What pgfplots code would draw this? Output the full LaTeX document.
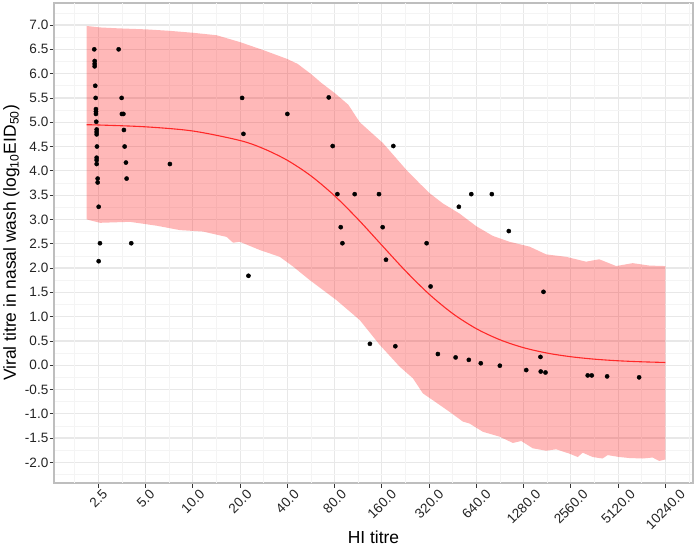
\documentclass[border=0pt]{standalone}
\usepackage{pgfplots}
\pgfplotsset{compat=1.18}
\usepackage{fontspec}
\setmainfont{Liberation Sans}
\definecolor{tickgray}{RGB}{51,51,51}
\definecolor{labgray}{RGB}{35,35,35}
\definecolor{bordergray}{RGB}{190,190,190}
\definecolor{gridmajor}{RGB}{232,232,232}
\definecolor{gridminor}{RGB}{244,244,244}
\definecolor{fitred}{RGB}{255,40,40}
\newcommand{\rl}[1]{\rotatebox{45}{#1}}
\begin{document}
\begin{tikzpicture}
\begin{axis}[
  scale only axis, width=639bp, height=480bp,
  xmode=log,
  xmin=1.304, xmax=15360, ymin=-2.424, ymax=7.453,
  xtick={2.5,5,10,20,40,80,160,320,640,1280,2560,5120,10240},
  xticklabels={\rl{2.5},\rl{5.0},\rl{10.0},\rl{20.0},\rl{40.0},\rl{80.0},\rl{160.0},\rl{320.0},\rl{640.0},\rl{1280.0},\rl{2560.0},\rl{5120.0},\rl{10240.0}},
  extra x ticks={1.768,3.536,7.071,14.14,28.28,56.57,113.1,226.3,452.5,905.1,1810,3620,7241,14482},
  extra x tick labels={},
  extra x tick style={major grid style={draw=gridminor, line width=0.6bp}, major tick length=0pt},
  ytick={-2,-1.5,-1,-0.5,0,0.5,1,1.5,2,2.5,3,3.5,4,4.5,5,5.5,6,6.5,7},
  yticklabels={-2.0,-1.5,-1.0,-0.5,0.0,0.5,1.0,1.5,2.0,2.5,3.0,3.5,4.0,4.5,5.0,5.5,6.0,6.5,7.0},
  minor ytick={-2.25,-1.75,-1.25,-0.75,-0.25,0.25,0.75,1.25,1.75,2.25,2.75,3.25,3.75,4.25,4.75,5.25,5.75,6.25,6.75,7.25},
  grid=both,
  major grid style={draw=gridmajor, line width=1.2bp},
  minor grid style={draw=gridminor, line width=0.6bp},
  axis line style={draw=bordergray, line width=1.1bp},
  tick align=outside,
  xtick pos=left, ytick pos=left,
  major tick length=4.5bp,
  minor tick length=0pt,
  major tick style={draw=tickgray, line width=0.8bp},
  minor tick style={draw=none},
  xticklabel style={anchor=north, font=\fontsize{13.6}{16}\selectfont, text=labgray, inner sep=1bp},
  yticklabel style={anchor=east, font=\fontsize{13.6}{16}\selectfont, text=labgray, inner sep=1bp},
  xlabel={HI titre},
  ylabel={Viral titre in nasal wash (log\textsubscript{10}EID\textsubscript{50})},
  every axis x label/.style={at={([yshift=-60bp]axis description cs:0.5,0)}, anchor=base, font=\fontsize{17.5}{20}\selectfont},
  every axis y label/.style={at={([xshift=-38bp]axis description cs:0,0.5)}, anchor=base, rotate=90, font=\fontsize{17.5}{20}\selectfont},
]
% prediction ribbon
\addplot[draw=none, fill=red, fill opacity=0.28] coordinates {
(2.107,6.98) (2.56,6.95) (3.43,6.93) (5.07,6.91) (7.14,6.88) (10.04,6.84) (14.15,6.79) (19.9,6.65) (28.3,6.48) (40.0,6.30) (46.5,6.20) (56.7,5.99) (65.8,5.81) (80.1,5.60) (97.8,5.36) (115.6,5.00) (162.6,4.57) (229,4.02) (278.6,3.74) (322,3.54) (391,3.33) (500,3.12) (639,2.86) (815,2.66) (1040,2.54) (1396,2.44) (1783,2.28) (2388,2.23) (3200,2.13) (3880,2.18) (4975,2.04) (6345,2.10) (8093,2.05) (10240,2.04)
(10240,-1.94) (9363,-1.97) (8493,-1.90) (7340,-1.92) (6045,-1.91) (5225,-1.89) (4395,-1.85) (4075,-1.92) (3528,-1.89) (3045,-1.80) (2832,-1.89) (2508,-1.82) (2065,-1.73) (1783,-1.76) (1465,-1.71) (1236,-1.56) (1093,-1.60) (899,-1.47) (704,-1.37) (579,-1.20) (525,-1.16) (432,-0.96) (338,-0.72) (292,-0.58) (252.5,-0.27) (207.7,-0.03) (154.9,0.42) (115.6,0.93) (82.1,1.34) (55.6,1.75) (43.5,2.03) (35.8,2.23) (26.7,2.37) (19.9,2.54) (18.05,2.52) (16.4,2.64) (11.6,2.75) (8.27,2.78) (5.88,2.87) (3.97,2.95) (2.56,2.93) (2.107,3.00)
} -- cycle;
% fitted curve
\addplot[fitred, line width=1.1bp, smooth] coordinates {
(2.107,4.948) (2.5,4.943) (5,4.905) (10,4.819) (20,4.623) (28.28,4.454) (40,4.216) (56.57,3.895) (80,3.485) (113.1,2.999) (160,2.468) (226.3,1.940) (320,1.462) (452.5,1.062) (640,0.751) (905,0.523) (1280,0.360) (1810,0.249) (2560,0.174) (3620,0.124) (5120,0.091) (7241,0.070) (10240,0.056)
};
% observations
\addplot[only marks, mark=*, mark size=2.1bp, mark options={draw=black, fill=black}] coordinates {
(2.354,6.50) (2.368,6.26) (2.368,6.20) (2.368,6.15) (2.389,5.75) (2.403,5.50) (2.413,5.27) (2.413,5.22) (2.413,5.17)
(2.424,5.01) (2.438,4.85) (2.438,4.80) (2.438,4.75) (2.449,4.50) (2.438,4.27) (2.438,4.22) (2.438,4.14) (2.474,3.84)
(2.474,3.76) (2.511,3.26) (2.559,2.51) (2.511,2.14)
(3.366,6.50) (3.518,5.50) (3.53,5.17) (3.61,5.17) (3.638,4.84) (3.676,4.50) (3.747,4.17) (3.784,3.84) (4.05,2.51)
(7.14,4.14) (20.6,5.50) (21.0,4.76) (22.6,1.84) (40.0,5.17) (73.4,5.51) (77.8,4.51) (83.3,3.52) (87.5,2.84) (89.7,2.51)
(107.4,3.52) (134.3,0.44) (153.4,3.52) (161.9,2.84) (170,2.17) (189.3,4.51) (195,0.39) (308.5,2.51) (327,1.62) (364,0.23)
(472,0.16) (495,3.26) (573,0.11) (594,3.52) (683,0.04) (803,3.52) (903,-0.01) (1030,2.76) (1330,-0.10) (1639,0.17)
(1646,-0.13) (1713,1.51) (1764,-0.15) (3278,-0.21) (3478,-0.21) (4357,-0.23) (6967,-0.25)
};
\end{axis}
\pgfresetboundingbox
\useasboundingbox (-54bp,-72bp) rectangle (642bp,483bp);
\end{tikzpicture}
\end{document}
